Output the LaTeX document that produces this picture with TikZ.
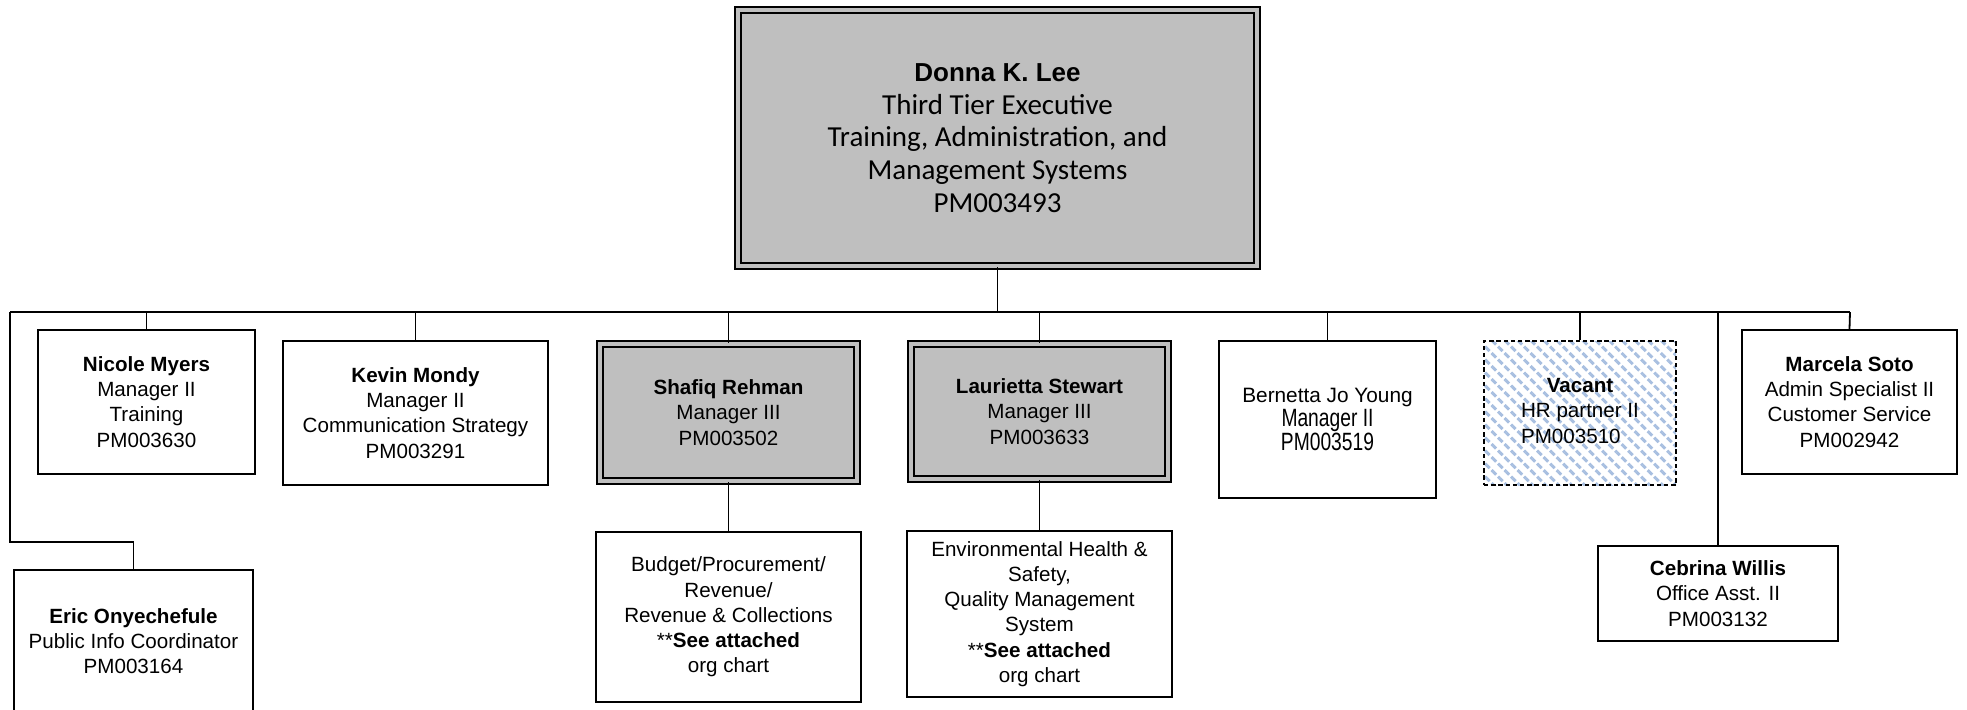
\documentclass[tikz,border=0pt]{standalone}
\usepackage{fontspec}
\setmainfont{Liberation Sans}
\newfontfamily\calibri{Carlito}
\newfontfamily\narrowsans[FakeStretch=0.77]{Liberation Sans}
\usetikzlibrary{positioning,patterns.meta}
\definecolor{boxgray}{rgb}{0.75, 0.75, 0.75}
\definecolor{hatchblue}{rgb}{0.66, 0.75, 0.88}
\newcommand{\boxfont}{\fontsize{10.3}{12.6}\selectfont}
\newcommand{\who}[1]{\textbf{#1}}
\tikzstyle{every node}=[inner sep=2pt]
\tikzstyle{post}=[rectangle, draw=black, line width=0.9pt, fill=white, align=center, font=\boxfont]
\tikzstyle{manager}=[post, fill=boxgray, double=boxgray, double distance=2.2pt, line width=0.8pt]
\tikzstyle{vacant}=[post, line width=0.8pt, dash pattern=on 2.2pt off 1.4pt, pattern={Lines[angle=-45, distance=4.6pt, line width=1.5pt]}, pattern color=hatchblue]
\tikzstyle{link}=[draw=black, line width=0.9pt]

\begin{document}
\begin{tikzpicture}[x=0.5pt, y=-0.5pt]
	\useasboundingbox (0, 0) rectangle (1967, 709);
	\clip (0, 0) rectangle (1967, 709);
	
	\node[manager, minimum width=259.7pt, minimum height=128.2pt, font=\fontsize{13}{16.4}\selectfont] at (997.5, 138) (lee) {\who{Donna K. Lee}\\ {\calibri\fontsize{14.5}{16.4}\selectfont Third Tier Executive}\\ {\calibri\fontsize{14.5}{16.4}\selectfont Training, Administration, and}\\ {\calibri\fontsize{14.5}{16.4}\selectfont Management Systems}\\ {\calibri\fontsize{14.5}{16.4}\selectfont PM003493}};
	
	\coordinate (busL) at (10, 312);
	\coordinate (busR) at (1850, 312);
	\coordinate (elbow) at (10, 542);
	
	\node[post, minimum width=108.5pt, minimum height=72pt] at (146.5, 402) (myers) {\who{Nicole Myers}\\ Manager II\\ Training\\ PM003630};
	
	\node[post, minimum width=132.5pt, minimum height=72pt] at (415.5, 413) (mondy) {\who{Kevin Mondy}\\ Manager II\\ Communication Strategy\\ PM003291};
	
	\node[manager, minimum width=128.7pt, minimum height=68.7pt] at (728.5, 412.5) (rehman) {\who{Shafiq Rehman}\\ Manager III\\ PM003502};
	
	\node[manager, minimum width=128.7pt, minimum height=67.7pt] at (1039.5, 411.5) (stewart) {\who{Laurietta Stewart}\\ Manager III\\ PM003633};
	
	\node[post, minimum width=108.5pt, minimum height=78.5pt, font=\fontsize{10.4}{12}\selectfont] at (1327.5, 419.5) (young) {Bernetta Jo Young\\ {\narrowsans\fontsize{12.5}{12}\selectfont Manager II}\\ {\narrowsans\fontsize{12.5}{12}\selectfont PM003519}};
	
	\node[vacant, minimum width=96pt, minimum height=72pt] at (1580, 413) (hrp) {\who{Vacant}\\ HR partner II\\ \rlap{PM003510}\phantom{HR partner II}};
	
	\node[post, minimum width=107.5pt, minimum height=72pt] at (1849.5, 402) (soto) {\who{Marcela Soto}\\ Admin Specialist II\\ Customer Service\\ PM002942};
	
	\node[post, minimum width=120pt, minimum height=47.5pt] at (1718, 593.5) (willis) {\who{Cebrina Willis}\\ Office Asst. II\\ PM003132};
	
	\node[post, minimum width=119.5pt, minimum height=71pt] at (133.5, 641) (onyechefule) {\who{Eric Onyechefule}\\ Public Info Coordinator\\ PM003164};
	
	\node[post, minimum width=132.5pt, minimum height=85pt] at (728.5, 617) (budget) {Budget/Procurement/\\ Revenue/\\ Revenue \& Collections\\ **\who{See attached}\\ org chart};
	
	\node[post, minimum width=132.5pt, minimum height=83pt] at (1039.5, 614) (safety) {Environmental Health \&\\ Safety,\\ Quality Management\\ System\\ **\who{See attached}\\ org chart};
	
	% bus under the executive
	\draw[link] (lee.south) -- (lee.south |- busL);
	\draw[link] (busL) -- (busR);
	\draw[link] (myers.north |- busL) -- (myers.north);
	\draw[link] (mondy.north |- busL) -- (mondy.north);
	\draw[link] (rehman.north |- busL) -- (rehman.north);
	\draw[link] (stewart.north |- busL) -- (stewart.north);
	\draw[link] (young.north |- busL) -- (young.north);
	\draw[link] (hrp.north |- busL) -- (hrp.north);
	\draw[link] (busR) -- (soto.north);
	\draw[link] (willis.north |- busL) -- (willis.north);
	\draw[link] (busL) -- (elbow) -| (onyechefule.north);
	
	\draw[link] (rehman.south) -- (budget.north);
	\draw[link] (stewart.south) -- (safety.north);
	
\end{tikzpicture}
\end{document}
